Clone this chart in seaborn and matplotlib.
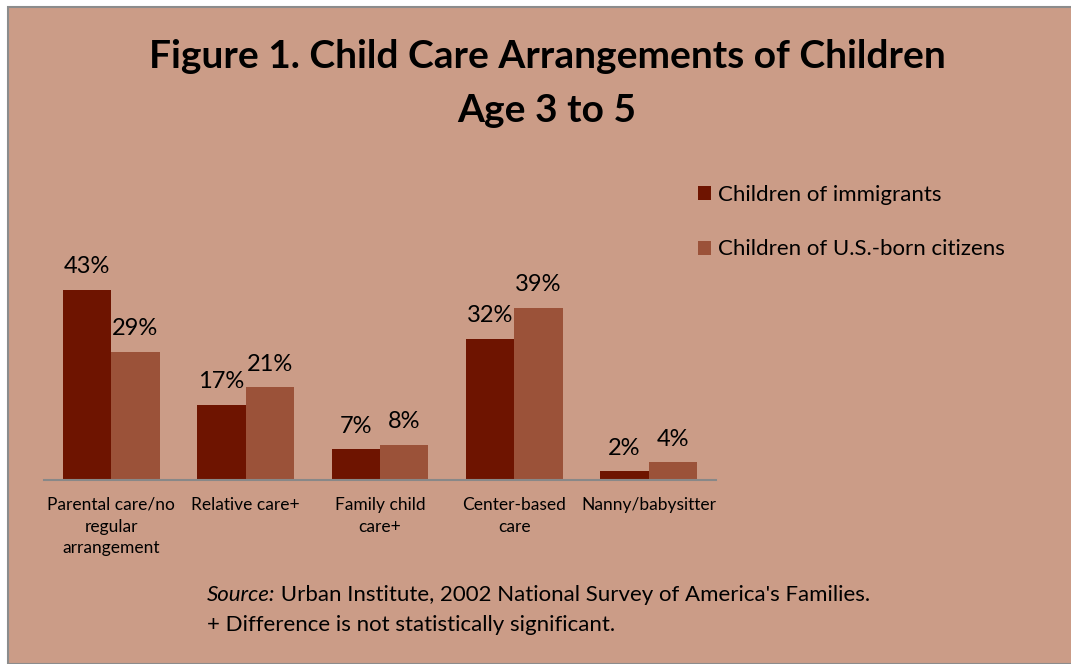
import matplotlib
matplotlib.use("Agg")
import matplotlib.pyplot as plt
import matplotlib.patches as mpatches
import seaborn as sns
import pandas as pd

categories = ["Parental care/no\nregular\narrangement", "Relative care+", "Family child\ncare+",
              "Center-based\ncare", "Nanny/babysitter"]
immigrants = [43, 17, 7, 32, 2]
us_born = [29, 21, 8, 39, 4]
series_names = ["Children of immigrants", "Children of U.S.-born citizens"]
colors = ["#6E1400", "#9B5239"]
bg = "#CB9C87"

df = pd.DataFrame({
    "category": categories * 2,
    "value": immigrants + us_born,
    "series": [series_names[0]] * len(categories) + [series_names[1]] * len(categories),
})

sns.set_theme(style="white")
plt.rcParams['font.family'] = ['Lato', 'DejaVu Sans']
plt.rcParams['text.color'] = 'black'

W, H = 1071, 664
fig = plt.figure(figsize=(W / 100, H / 100), dpi=100)
fig.patch.set_facecolor("white")
panel = mpatches.Rectangle((8 / W, 0), 1 - 8 / W + 0.01, 1 - 7 / H, transform=fig.transFigure,
                           facecolor=bg, edgecolor="#8C8C8C", linewidth=1.5, zorder=-10)
fig.patches.append(panel)

ax = fig.add_axes([44 / W, 184 / H, 672 / W, 221 / H])
ax.set_facecolor("none")
sns.barplot(data=df, x="category", y="value", hue="series", palette=colors,
            width=0.72, gap=0, ax=ax, legend=False, saturation=1, errorbar=None)
for p in ax.patches:
    p.set_edgecolor("none")
ax.set_ylim(0, 50)
ax.set_xlim(-0.5, len(categories) - 0.5)
for c in ax.containers:
    ax.bar_label(c, labels=[f"{int(v)}%" for v in c.datavalues], padding=9, fontsize=17, color="black")
for s in ["top", "right", "left"]:
    ax.spines[s].set_visible(False)
ax.spines["bottom"].set_color("#888888")
ax.spines["bottom"].set_linewidth(1.5)
ax.set_yticks([])
ax.set_xlabel("")
ax.set_ylabel("")
ax.tick_params(axis="x", length=0, pad=12, labelsize=12.5, colors="black")
for lbl in ax.get_xticklabels():
    lbl.set_linespacing(1.45)

fig.text(547 / W, 1 - 57 / H, "Figure 1. Child Care Arrangements of Children", ha="center", va="center",
         fontsize=28, fontweight="bold", color="black")
fig.text(547 / W, 1 - 111 / H, "Age 3 to 5", ha="center", va="center",
         fontsize=28, fontweight="bold", color="black")

handles = [mpatches.Patch(facecolor=colors[i], edgecolor="none", label=series_names[i]) for i in range(2)]
fig.legend(handles=handles, loc="upper left", bbox_to_anchor=(678 / W, 1 - 165 / H), frameon=False,
           fontsize=16, handlelength=0.6, handleheight=0.6, handletextpad=0.3, labelspacing=1.55)

t1 = fig.text(207 / W, 1 - 595 / H, "Source:", ha="left", va="center", fontsize=16, style="italic")
plt.annotate(" Urban Institute, 2002 National Survey of America's Families.", xy=(1, 0), xycoords=t1,
             va="bottom", ha="left", fontsize=16, annotation_clip=False)
fig.text(207 / W, 1 - 625 / H, "+ Difference is not statistically significant.", ha="left", va="center",
         fontsize=16)

fig.savefig("out.png", dpi=100, facecolor=fig.get_facecolor())
